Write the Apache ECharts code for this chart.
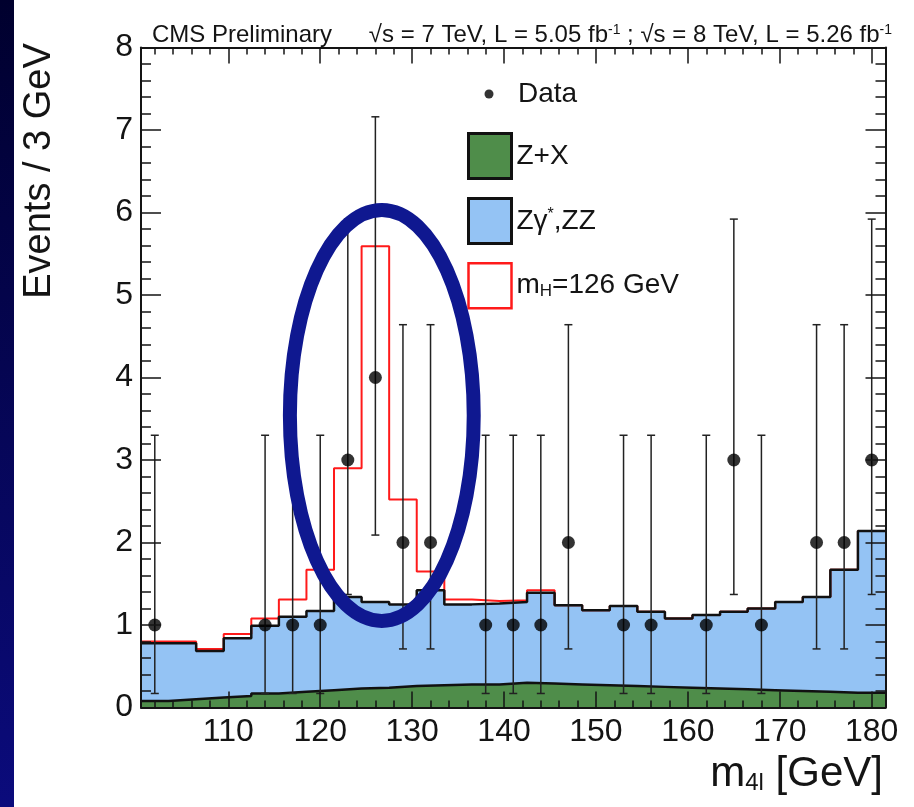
<!DOCTYPE html>
<html>
<head>
<meta charset="utf-8">
<script src="https://cdn.jsdelivr.net/npm/echarts@6/dist/echarts.min.js"></script>
<style>
  html, body { margin: 0; padding: 0; background: #ffffff; }
  #chart { width: 914px; height: 807px; }
</style>
</head>
<body>
<div id="chart"></div>
<script>
// Four-lepton invariant mass, 3 GeV bins (bin centres in GeV)
const binCenters = [102, 105, 108, 111, 114, 117, 120, 123, 126, 129, 132, 135, 138, 141,
                    144, 147, 150, 153, 156, 159, 162, 165, 168, 171, 174, 177, 180];
const binHalfWidth = 1.5;

// Expected events per bin
const zxBkg = [0.08, 0.10, 0.12, 0.14, 0.17, 0.19, 0.21, 0.23, 0.24, 0.26, 0.27, 0.28, 0.28, 0.30,
               0.29, 0.28, 0.27, 0.26, 0.25, 0.24, 0.23, 0.22, 0.21, 0.20, 0.19, 0.18, 0.18];
const zzBkg = [0.70, 0.68, 0.565, 0.70, 0.82, 0.91, 0.96, 1.11, 1.04, 0.99, 1.15, 0.97, 0.98, 0.98,
               1.10, 0.96, 0.91, 0.97, 0.91, 0.84, 0.89, 0.94, 0.99, 1.08, 1.15, 1.49, 1.96];
const higgsSig = [0.02, 0.02, 0.025, 0.05, 0.09, 0.21, 0.50, 1.56, 4.31, 1.27, 0.23, 0.06, 0.03, 0.02,
                  0.03, 0, 0, 0, 0, 0, 0, 0, 0, 0, 0, 0, 0];

// Observed events and their Poisson error bar ends
const dataCounts = [1, 0, 0, 0, 1, 1, 1, 3, 4, 2, 2, 0, 1, 1, 1, 2, 0, 1, 1, 0, 1, 3, 1, 0, 2, 2, 3];
const errLow  = [0.17, null, null, null, 0.17, 0.17, 0.17, 1.37, 2.09, 0.71, 0.71, null, 0.17, 0.17,
                 0.17, 0.71, null, 0.17, 0.17, null, 0.17, 1.37, 0.17, null, 0.71, 0.71, 1.37];
const errHigh = [3.30, null, null, null, 3.30, 3.30, 3.30, 5.92, 7.16, 4.64, 4.64, null, 3.30, 3.30,
                 3.30, 4.64, null, 3.30, 3.30, null, 3.30, 5.92, 3.30, null, 4.64, 4.64, 5.92];

// Axis ticks
const xMajorTicks = [110, 120, 130, 140, 150, 160, 170, 180];
const xMinorTicks = [102, 104, 106, 108, 112, 114, 116, 118, 122, 124, 126, 128, 132, 134, 136, 138,
                     142, 144, 146, 148, 152, 154, 156, 158, 162, 164, 166, 168, 172, 174, 176, 178];
const xRange = [100.5, 181.5];
const yRange = [0, 8];

// Highlight ring around the excess (data coordinates)
const ringCenter = [126.7, 3.54];
const ringHalfWidth = 10.0;
const ringHalfHeight = 2.49;

const FONT = '"Liberation Sans", Arial, Helvetica, sans-serif';
const INK = '#141414';
const GREEN = '#4f8d4a';
const BLUE = '#94c3f4';
const RED = '#ff1a1a';

// cumulative stack: Z+X, then ZZ on top, then the signal on top of the background
const bkgTotal = zxBkg.map((v, i) => v + zzBkg[i]);
const bkgPlusSig = bkgTotal.map((v, i) => v + higgsSig[i]);

// histogram outline points: left edge of every bin plus the closing right edge
function stepPoints(values) {
  const pts = binCenters.map((c, i) => [c - binHalfWidth, values[i]]);
  pts.push([binCenters[binCenters.length - 1] + binHalfWidth, values[values.length - 1]]);
  return pts;
}

const dataPoints = [];
const errorBars = [];
binCenters.forEach((c, i) => {
  if (dataCounts[i] > 0) {
    dataPoints.push([c, dataCounts[i]]);
    errorBars.push([c, errLow[i], errHigh[i]]);
  }
});

function xAxisCfg(position, ticks, len, withLine, withLabels) {
  return {
    type: 'value', position: position, min: xRange[0], max: xRange[1], z: 10,
    axisLine: { show: withLine, onZero: false, lineStyle: { color: INK, width: 2 } },
    axisTick: { show: true, inside: true, length: len, customValues: ticks,
                lineStyle: { color: INK, width: 1.5 } },
    axisLabel: { show: withLabels, customValues: ticks, margin: 9, fontSize: 32,
                 fontFamily: FONT, color: INK },
    splitLine: { show: false }
  };
}
function yAxisCfg(position, withLabels) {
  return {
    type: 'value', position: position, min: yRange[0], max: yRange[1], interval: 1, z: 10,
    axisLine: { show: true, onZero: false, lineStyle: { color: INK, width: 2 } },
    axisTick: { show: true, inside: true, length: 20, lineStyle: { color: INK, width: 1.5 } },
    minorTick: { show: true, splitNumber: 5, length: 10, lineStyle: { color: INK, width: 1.5 } },
    axisLabel: { show: withLabels, margin: 8, fontSize: 32, fontFamily: FONT, color: INK },
    splitLine: { show: false }
  };
}

function histLine(name, values, z, lineColor, lineWidth, fill) {
  const s = {
    name: name, type: 'line', step: 'end', z: z, xAxisIndex: 0, yAxisIndex: 0,
    showSymbol: false, symbol: 'none', data: stepPoints(values),
    lineStyle: { color: lineColor, width: lineWidth },
    itemStyle: { color: fill || lineColor }
  };
  if (fill) s.areaStyle = { color: fill, opacity: 1 };
  return s;
}

const chart = echarts.init(document.getElementById('chart'), null, { renderer: 'canvas' });

const option = {
  animation: false,
  backgroundColor: '#ffffff',
  grid: { left: 141, right: 28.5, top: 47.5, bottom: 99.5, containLabel: false },
  title: [
    { text: 'CMS Preliminary', left: 147, top: 18,
      textStyle: { fontSize: 24, fontWeight: 'normal', color: INK, fontFamily: FONT } },
    { text: '{t|\u221As = 7 TeV, L = 5.05 fb}{s|-1}{t| ; \u221As = 8 TeV, L = 5.26 fb}{s|-1}',
      right: 17, top: 18,
      textStyle: { fontWeight: 'normal', rich: {
        t: { fontSize: 24, fontWeight: 'normal', color: INK, fontFamily: FONT },
        s: { fontSize: 14, fontWeight: 'normal', color: INK, fontFamily: FONT,
             verticalAlign: 'top', padding: [0, 0, 9, 0] }
      } } },
    { text: '{t|m}{s|4l}{t| [GeV]}', right: 26, top: 748,
      textStyle: { fontWeight: 'normal', rich: {
        t: { fontSize: 42, fontWeight: 'normal', color: INK, fontFamily: FONT },
        s: { fontSize: 24, fontWeight: 'normal', color: INK, fontFamily: FONT,
             verticalAlign: 'bottom', padding: [12, 0, 0, 0] }
      } } }
  ],
  legend: [
    { show: true, orient: 'vertical', left: 479.5, top: 75, selectedMode: false,
      itemWidth: 48, itemHeight: 9,
      data: [{ name: 'Data', icon: 'circle', itemStyle: { color: '#000' } }],
      textStyle: { fontSize: 28, color: INK, fontFamily: FONT } },
    { show: true, orient: 'vertical', left: 462, top: 127, selectedMode: false,
      itemWidth: 43, itemHeight: 45, itemGap: 17,
      data: [
        { name: 'Z+X', icon: 'rect',
          itemStyle: { color: GREEN, borderColor: '#111', borderWidth: 3 } },
        { name: 'Zγ*,ZZ', icon: 'rect',
          itemStyle: { color: BLUE, borderColor: '#111', borderWidth: 3 } },
        { name: 'mH=126 GeV', icon: 'rect',
          itemStyle: { color: '#ffffff', borderColor: RED, borderWidth: 2.5 } }
      ],
      formatter: function (name) {
        if (name === 'Zγ*,ZZ') return '{t|Zγ}{p|*}{t|,ZZ}';
        if (name === 'mH=126 GeV') return '{t|m}{b|H}{t|=126 GeV}';
        return '{t|' + name + '}';
      },
      textStyle: { rich: {
        t: { fontSize: 28, color: INK, fontFamily: FONT },
        p: { fontSize: 16, color: INK, fontFamily: FONT, verticalAlign: 'top' },
        b: { fontSize: 17, color: INK, fontFamily: FONT, verticalAlign: 'bottom', padding: [8, 0, 0, 0] }
      } } }
  ],
  xAxis: [
    xAxisCfg('bottom', xMajorTicks, 16, true, true),
    xAxisCfg('bottom', xMinorTicks, 7, false, false),
    xAxisCfg('top', xMajorTicks, 16, true, false),
    xAxisCfg('top', xMinorTicks, 7, false, false)
  ],
  yAxis: [ yAxisCfg('left', true), yAxisCfg('right', false) ],
  series: [
    histLine('Zγ*,ZZ', bkgTotal, 2, BLUE, 0, BLUE),
    histLine('mH=126 GeV', bkgPlusSig, 3, RED, 2, null),
    histLine('background outline', bkgTotal, 4, '#111', 2.5, null),
    histLine('Z+X', zxBkg, 5, '#111', 2.5, GREEN),
    { name: 'errors', type: 'custom', z: 6, xAxisIndex: 0, yAxisIndex: 0,
      data: errorBars, encode: { x: 0, y: [1, 2] },
      renderItem: function (params, api) {
        const x = api.value(0);
        const lo = api.coord([x, api.value(1)]);
        const hi = api.coord([x, api.value(2)]);
        const cap = 4;
        const st = { stroke: '#222', lineWidth: 1.5 };
        return { type: 'group', children: [
          { type: 'line', shape: { x1: lo[0], y1: lo[1], x2: hi[0], y2: hi[1] }, style: st },
          { type: 'line', shape: { x1: lo[0] - cap, y1: lo[1], x2: lo[0] + cap, y2: lo[1] }, style: st },
          { type: 'line', shape: { x1: hi[0] - cap, y1: hi[1], x2: hi[0] + cap, y2: hi[1] }, style: st }
        ] };
      } },
    { name: 'Data', type: 'scatter', z: 7, xAxisIndex: 0, yAxisIndex: 0,
      symbol: 'circle', symbolSize: 13, data: dataPoints,
      itemStyle: { color: '#000' } }
  ]
};

chart.setOption(option);

// Ring drawn in data coordinates, placed through the axis scales
const c = chart.convertToPixel({ xAxisIndex: 0, yAxisIndex: 0 }, ringCenter);
const e = chart.convertToPixel({ xAxisIndex: 0, yAxisIndex: 0 },
  [ringCenter[0] + ringHalfWidth, ringCenter[1] + ringHalfHeight]);

chart.setOption({
  graphic: { elements: [
    { type: 'rect', left: 0, top: 0, z: 100, silent: true,
      shape: { width: 14, height: 807 },
      style: { fill: new echarts.graphic.LinearGradient(0, 0, 0, 1, [
        { offset: 0, color: '#00002e' }, { offset: 1, color: '#0b0b7c' }]) } },
    { type: 'text', x: 40, y: 171, rotation: Math.PI / 2, z: 100, silent: true,
      style: { text: 'Events / 3 GeV', fontSize: 38, fontFamily: FONT, fill: INK,
               align: 'center', verticalAlign: 'middle' } },
    { type: 'ellipse', z: 100, silent: true,
      shape: { cx: c[0], cy: c[1], rx: Math.abs(e[0] - c[0]), ry: Math.abs(c[1] - e[1]) },
      style: { fill: 'none', stroke: '#0f1890', lineWidth: 14 } }
  ] }
});
</script>
</body>
</html>
